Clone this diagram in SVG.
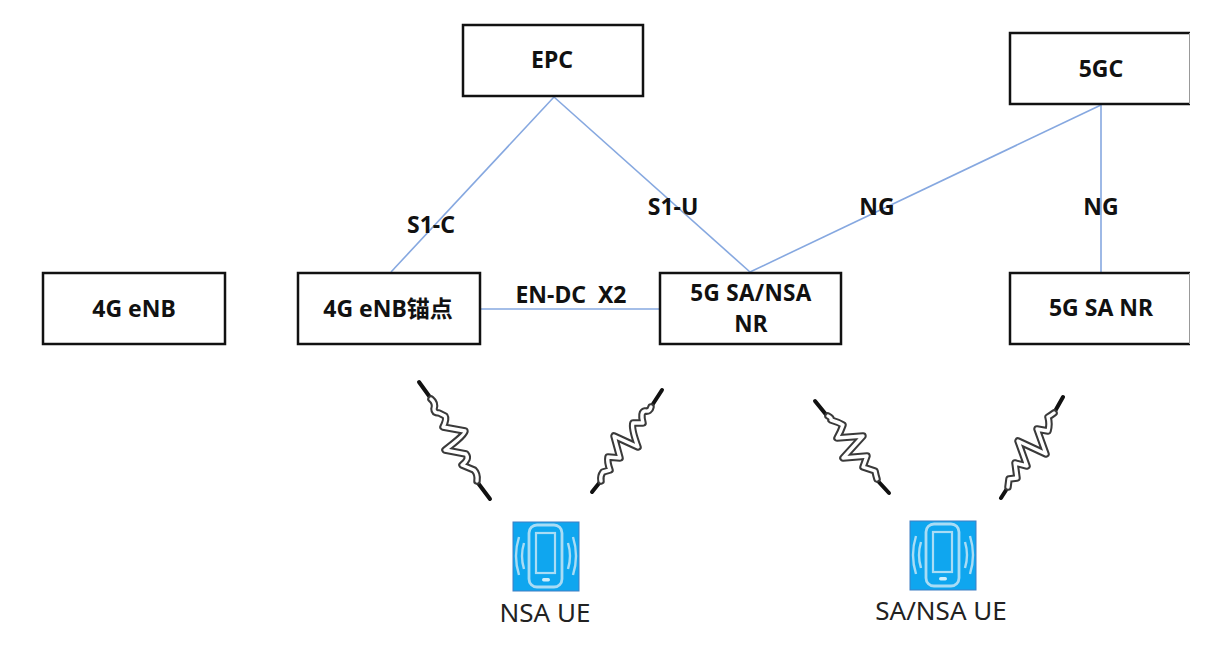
<svg xmlns="http://www.w3.org/2000/svg" width="1230" height="650" viewBox="0 0 1230 650">
<style>
  text { font-family: "Noto Sans", "Noto Sans CJK SC", sans-serif; fill: #111; text-anchor: middle; }
  .box { fill: #fff; stroke: #111; stroke-width: 2.5; }
  .lbl { font-size: 23px; font-weight: 700; }
  .two { font-size: 22.5px; font-weight: 700; letter-spacing: 0.3px; }
  .ue { font-size: 26px; font-weight: 400; fill: #222; }
  .link { stroke: #86a8e0; stroke-width: 1.6; fill: none; }
  .tip { stroke: #111; stroke-width: 4; stroke-linecap: round; fill: none; }
  .wo { stroke: #3a3a3a; stroke-width: 7.5; fill: none; stroke-linejoin: round; stroke-linecap: round; }
  .wi { stroke: #fff; stroke-width: 3.4; fill: none; stroke-linejoin: round; stroke-linecap: round; }
  .ph { fill: none; stroke: #a9dcf5; }
</style>
<defs>
  <g id="phone">
    <rect x="0" y="0" width="66" height="69" fill="#0fa6ef" stroke="#3f7fc4" stroke-width="1"/>
    <rect class="ph" x="16" y="3" width="33" height="62" rx="8" stroke-width="2.8"/>
    <rect class="ph" x="23" y="11" width="19" height="40" stroke-width="2.2"/>
    <rect x="29" y="56" width="8" height="3.5" rx="1.7" fill="#cdeefb"/>
    <path class="ph" d="M6 15Q0 34 6 53M11 21Q7 34 11 47M60 15Q66 34 60 53M55 21Q59 34 55 47" stroke-width="2.4"/>
  </g>
  <path id="wave1" d="M431 399Q436 403 434 409Q434 413 439 413L445 416Q447 419 443 427L465 431Q466 434 445 450L466 454Q470 459 462 465L474 470Q478 474 477 481"/>
  <path id="wave2" d="M651 407Q650 412 645 411Q640 412 643 423L633 423Q631 428 638 447L614 436L620 458L608 457Q607 462 610 470L603 472Q600 476 601 481"/>
  <path id="wave3" d="M828 416Q832 418 831 420Q838 422 843 425Q841 431 837 438L863 436L843 458L867 456L863 467L875 471Q876 476 877 479"/>
  <path id="wave4" d="M1054 413Q1050 416 1048 417Q1050 424 1048 431L1037 429L1046 454L1018 441L1027 466L1015 463L1017 478L1009 479L1008 487"/>
</defs>

<g id="connectors">
  <line class="link" x1="554" y1="97" x2="391" y2="272"/>
  <line class="link" x1="554" y1="97" x2="750" y2="272"/>
  <line class="link" x1="1101" y1="105" x2="750" y2="272"/>
  <line class="link" x1="1101" y1="105" x2="1101" y2="272"/>
  <line class="link" x1="480" y1="309" x2="660" y2="309"/>
</g>

<g id="epc"><rect class="box" x="463" y="25" width="180" height="71"/><text class="lbl" x="552" y="68">EPC</text></g>
<g id="core5g"><rect class="box" x="1010" y="33" width="190" height="71"/><text class="lbl" x="1101" y="77">5GC</text></g>
<g id="enb4g"><rect class="box" x="43" y="273" width="182" height="71"/><text class="lbl" x="134" y="317">4G eNB</text></g>
<g id="anchor"><rect class="box" x="298" y="273" width="182" height="71"/><text class="lbl" x="388" y="317">4G eNB锚点</text></g>
<g id="nr-nsa"><rect class="box" x="660" y="273" width="181" height="71"/><text class="two" x="751" y="301">5G SA/NSA</text><text class="two" x="751" y="332">NR</text></g>
<g id="nr-sa"><rect class="box" x="1010" y="273" width="190" height="71"/><text class="lbl" x="1101" y="316">5G SA NR</text></g>
<!-- page edge trims the two right-hand boxes -->
<rect x="1190" y="20" width="40" height="340" fill="#fff"/>
<line x1="1189.5" y1="33" x2="1189.5" y2="104" stroke="#999"/>
<line x1="1189.5" y1="273" x2="1189.5" y2="344" stroke="#999"/>

<g id="labels">
  <text class="lbl" x="431" y="233">S1-C</text>
  <text class="lbl" x="673" y="215">S1-U</text>
  <text class="lbl" x="877" y="215">NG</text>
  <text class="lbl" x="1101" y="215">NG</text>
  <text class="lbl" x="571" y="303" xml:space="preserve">EN-DC  X2</text>
</g>

<g id="radio-links">
  <path class="tip" d="M419 382L432 400M478 483L490 499"/>
  <use href="#wave1" class="wo"/><use href="#wave1" class="wi"/>
  <path class="tip" d="M662 390L651 407M600 482L592 492"/>
  <use href="#wave2" class="wo"/><use href="#wave2" class="wi"/>
  <path class="tip" d="M815 401L828 417M877 480L889 493"/>
  <use href="#wave3" class="wo"/><use href="#wave3" class="wi"/>
  <path class="tip" d="M1063 397L1054 413M1008 487L1001 498"/>
  <use href="#wave4" class="wo"/><use href="#wave4" class="wi"/>
</g>

<g id="nsa-ue"><use href="#phone" x="513" y="522"/><text class="ue" x="545" y="622">NSA UE</text></g>
<g id="sa-nsa-ue"><use href="#phone" x="910" y="521"/><text class="ue" x="941" y="620">SA/NSA UE</text></g>
</svg>
